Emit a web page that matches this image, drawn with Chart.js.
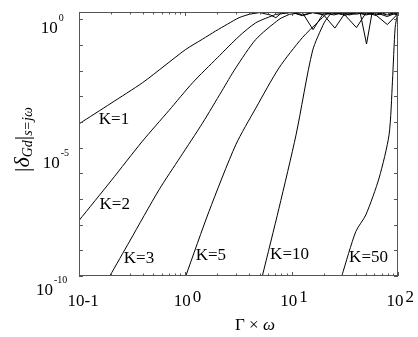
<!DOCTYPE html>
<html><head><meta charset="utf-8">
<script src="https://cdn.jsdelivr.net/npm/chart.js@4"></script>
<style>html,body{margin:0;padding:0;background:#fff}canvas{display:block}</style>
</head><body>
<canvas id="c" width="418" height="337"></canvas>
<script>
// ---- data ----
const k1X = [0.1, 0.2, 0.395, 0.63, 1.01, 1.45, 1.93, 2.5, 3.2, 4.0, 5.0, 6.3, 7.1, 7.9, 10, 12.6, 15.8, 20, 25, 31.6, 40, 50, 63, 79, 100];
const k1Y = [8.5e-5, 5.4e-4, 3.4e-3, 1.5e-2, 0.068, 0.17, 0.355, 0.66, 1.17, 1.6, 1.85, 1.5, 1.17, 1.7, 1.9, 1.5, 1.85, 1.6, 1.9, 1.45, 1.85, 1.6, 1.9, 1.5, 1.8];
const k2X = [0.1, 0.2, 0.395, 0.7, 1.17, 2.0, 3.2, 4.6, 7.1, 10, 12.6, 15.8, 20, 25.5, 31.6, 40, 50, 63, 79, 100];
const k2Y = [1.45e-8, 5.1e-7, 1.8e-5, 2.8e-4, 3.4e-3, 0.032, 0.22, 0.74, 1.58, 1.9, 1.4, 1.85, 1.5, 0.46, 1.7, 1.9, 1.5, 1.8, 1.3, 1.9];
const k3X = [0.195, 0.3, 0.566, 0.9, 1.45, 2.2, 2.98, 4.6, 7.6, 9.5, 12.6, 15.9, 20, 25, 31.6, 40, 50, 63, 79.4, 100];
const k3Y = [1e-10, 2.3e-9, 2.3e-7, 4.4e-6, 9.1e-5, 1.6e-3, 0.0129, 0.166, 1.0, 1.58, 1.85, 0.4, 1.8, 1.5, 1.9, 1.6, 1.85, 1.4, 0.63, 1.7];
const k5X = [1.01, 1.67, 2.98, 4.6, 7.6, 12.6, 18.1, 21, 25, 31.6, 40.7, 50, 63, 79, 100];
const k5Y = [1e-10, 3.3e-8, 1.3e-5, 3.5e-4, 0.0129, 0.195, 0.87, 1.58, 1.9, 1.5, 0.48, 1.8, 1.6, 1.9, 1.5];
const k10X = [5.3, 7.6, 11, 15.7, 20.2, 23, 28, 35, 44, 50.6, 57, 63, 79, 100];
const k10Y = [1e-10, 4.4e-8, 3.2e-5, 0.059, 0.74, 1.58, 1.85, 1.5, 1.9, 0.11, 1.8, 1.5, 1.85, 1.6];
const k50X = [29.6, 40.1, 49.8, 66.4, 82.4, 88.7, 94, 98.8, 100];
const k50Y = [1e-10, 5.4e-9, 2.4e-8, 6.6e-7, 3.2e-5, 3.9e-3, 0.48, 1.58, 1.7];

const curveNames = ['K=1', 'K=2', 'K=3', 'K=5', 'K=10', 'K=50'];
const curveXs = [k1X, k2X, k3X, k5X, k10X, k50X];
const curveYs = [k1Y, k2Y, k3Y, k5Y, k10Y, k50Y];
// label anchor points (data units)
const labelX = [0.1535, 0.156, 0.264, 1.25, 6.27, 34.7];
const labelY = [1.24e-4, 5.9e-8, 4.6e-10, 6.3e-10, 6.6e-10, 5.2e-10];

const xTickValues = [0.1, 1, 10, 100];
const xTickExp = ['-1', '0', '1', '2'];
const yTickValues = [1, 1e-5, 1e-10];
const yTickExp = ['0', '-5', '-10'];
const xMinorValues = [0.2,0.3,0.4,0.5,0.6,0.7,0.8,0.9,2,3,4,5,6,7,8,9,20,30,40,50,60,70,80,90];
const yMajorValues = [1,1e-1,1e-2,1e-3,1e-4,1e-5,1e-6,1e-7,1e-8,1e-9,1e-10];

const SERIF = '"Liberation Serif", "Times New Roman", serif';

const deco = {
  id: 'deco',
  afterDatasetsDraw(chart) {
    const {ctx, chartArea: a, scales: {x, y}} = chart;
    ctx.save();
    // labels on curves
    ctx.fillStyle = '#000';
    ctx.font = '17px ' + SERIF;
    ctx.textAlign = 'left';
    ctx.textBaseline = 'middle';
    curveNames.forEach((t, i) => {
      ctx.fillText(t, x.getPixelForValue(labelX[i]), y.getPixelForValue(labelY[i]));
    });
    // frame
    ctx.strokeStyle = '#555';
    ctx.lineWidth = 1;
    ctx.strokeRect(a.left + 0.5, a.top + 0.5, a.right - a.left - 1, a.bottom - a.top - 1);
    ctx.beginPath();
    yMajorValues.forEach(v => {
      const py = Math.round(y.getPixelForValue(v)) + 0.5;
      ctx.moveTo(a.left, py); ctx.lineTo(a.left + 4, py);
      ctx.moveTo(a.right, py); ctx.lineTo(a.right - 4, py);
    });
    xTickValues.forEach(v => {
      const px = Math.round(x.getPixelForValue(v)) + 0.5;
      ctx.moveTo(px, a.bottom); ctx.lineTo(px, a.bottom - 4);
      ctx.moveTo(px, a.top); ctx.lineTo(px, a.top + 4);
    });
    xMinorValues.forEach(v => {
      const px = Math.round(x.getPixelForValue(v)) + 0.5;
      ctx.moveTo(px, a.bottom); ctx.lineTo(px, a.bottom - 2.5);
      ctx.moveTo(px, a.top); ctx.lineTo(px, a.top + 2.5);
    });
    ctx.stroke();

    // y tick labels
    ctx.textBaseline = 'alphabetic';
    const yBaseLeft = [40.7, 42.7, 36];
    const yBaseDy = [13.6, 20.6, 19.3];
    yTickValues.forEach((v, i) => {
      const py = y.getPixelForValue(v);
      ctx.font = '17px ' + SERIF;
      ctx.fillText('10', yBaseLeft[i], py + yBaseDy[i]);
      const w = ctx.measureText('10').width;
      ctx.font = '10px ' + SERIF;
      ctx.fillText(yTickExp[i], yBaseLeft[i] + w + 1, py + yBaseDy[i] - 12);
    });
    // x tick labels
    xTickValues.forEach((v, i) => {
      const px = x.getPixelForValue(v);
      ctx.font = '17px ' + SERIF;
      const l = px - 11.5;
      ctx.fillText('10', l, 305.5);
      const w = ctx.measureText('10').width;
      if (xTickExp[i].startsWith('-')) ctx.fillText(xTickExp[i], l + w, 305.5);
      else ctx.fillText(xTickExp[i], l + w + 2, 302);
    });
    // x title
    ctx.font = '17px ' + SERIF;
    let tx = 235;
    ctx.fillText('Γ × ', tx, 330);
    tx += ctx.measureText('Γ × ').width;
    ctx.font = 'italic 17px ' + SERIF;
    ctx.fillText('ω', tx, 330);
    // y title (rotated)
    ctx.translate(29, 172);
    ctx.rotate(-Math.PI / 2);
    let p = 0;
    const part = (txt, font, dy) => { ctx.font = font; ctx.fillText(txt, p, dy); p += ctx.measureText(txt).width; };
    part('|', '22px ' + SERIF, 0);
    part('δ', 'italic 22px ' + SERIF, 0);
    part('Gd', 'italic 14px ' + SERIF, 3);
    part('|', '22px ' + SERIF, 0);
    part('s=jω', 'italic 14px ' + SERIF, 3);
    ctx.restore();
  }
};

// each curve: smooth rising part + sharp-cornered saturated part
const datasets = [];
curveNames.forEach((n, i) => {
  const pts = curveXs[i].map((xv, j) => ({x: xv, y: curveYs[i][j]}));
  let cut = pts.findIndex(p => p.y >= 1.5);
  if (cut < 0) cut = pts.length - 1;
  const base = {borderColor: '#000', borderWidth: 1, showLine: true, pointRadius: 0, fill: false};
  datasets.push(Object.assign({label: n, data: pts.slice(0, cut + 1), tension: 0.25}, base));
  datasets.push(Object.assign({label: n + ' sat', data: pts.slice(cut), tension: 0}, base));
});

new Chart(document.getElementById('c'), {
  type: 'scatter',
  data: {datasets},
  options: {
    responsive: false,
    animation: false,
    devicePixelRatio: 1,
    layout: {padding: {left: 79, top: 12, right: 20, bottom: 61}},
    plugins: {legend: {display: false}, tooltip: {enabled: false}},
    scales: {
      x: {type: 'logarithmic', display: false, min: 0.1, max: 100},
      y: {type: 'logarithmic', display: false, min: 1e-10, max: 1.95}
    }
  },
  plugins: [deco]
});
</script>
</body></html>
